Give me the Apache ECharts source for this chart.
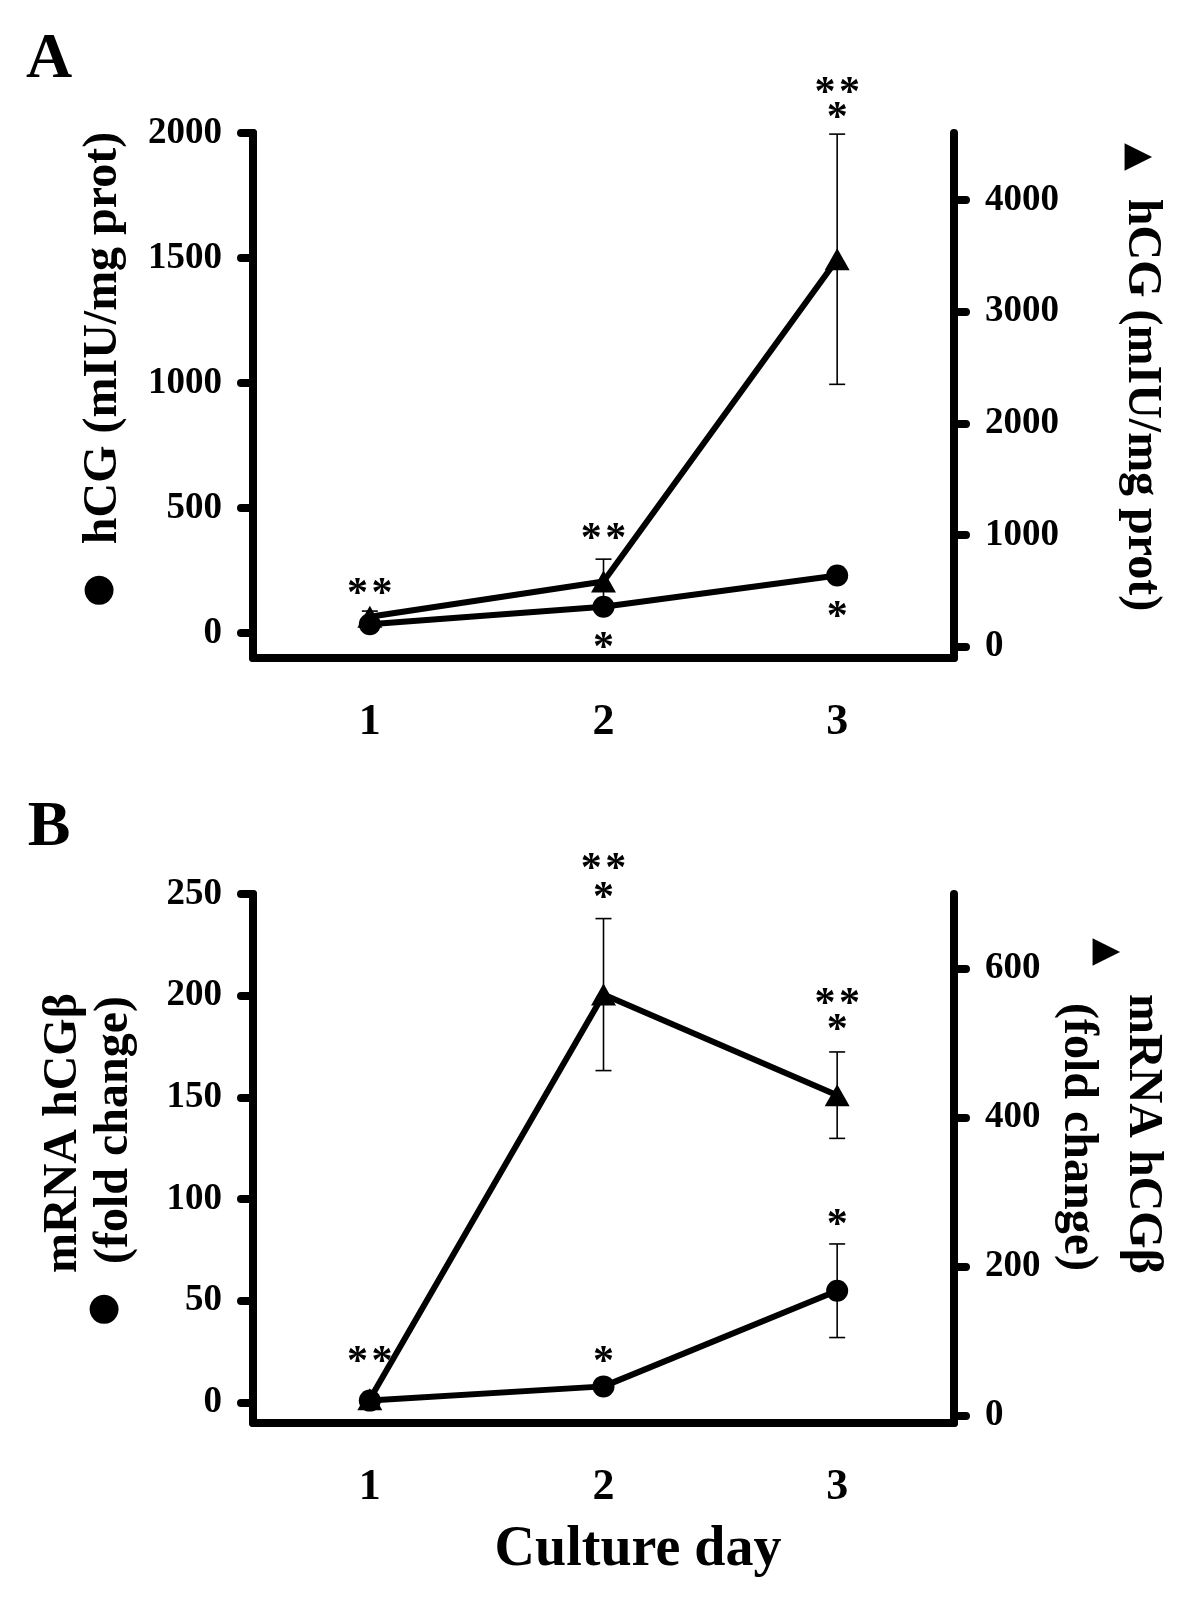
<!DOCTYPE html>
<html>
<head>
<meta charset="utf-8">
<script src="https://cdn.jsdelivr.net/npm/echarts@6/dist/echarts.min.js"></script>
<style>
html,body{margin:0;padding:0;background:#fff;}
#chart{width:1200px;height:1600px;}
</style>
</head>
<body>
<div id="chart"></div>
<script>
// ---------- data ----------
const days = ['1', '2', '3'];

// Panel A: hCG protein (mIU/mg prot)
const A_circle = [35, 105, 230];          // left axis
const A_circleErr = [0, 0, 0];
const A_triangle = [270, 585, 3470];      // right axis
const A_triangleErr = [50, 200, 1120];

// Panel B: mRNA hCGβ (fold change)
const B_circle = [1, 8, 55];              // left axis
const B_circleErr = [0, 0, 23];
const B_triangle = [22, 565, 430];        // right axis
const B_triangleErr = [0, 102, 58];

// tick labels
const A_leftTicks = [0, 500, 1000, 1500, 2000];
const A_rightTicks = [0, 1000, 2000, 3000, 4000];
const B_leftTicks = [0, 50, 100, 150, 200, 250];
const B_rightTicks = [0, 200, 400, 600];

// significance marks: [day index, value on left axis, text]
const A_stars = [[0, 189, '*\u200A*'], [1, 408, '*\u200A*'], [1, -29, '*'], [2, 2193, '*\u200A*'], [2, 2091, '*'], [2, 96, '*']];
const B_stars = [[0, 24, '*\u200A*'], [1, 24, '*'], [1, 266, '*\u200A*'], [1, 252, '*'], [2, 200, '*\u200A*'], [2, 187, '*'], [2, 91, '*']];

// ---------- chart ----------
const FONT = '"Liberation Serif", "Times New Roman", serif';
const chart = echarts.init(document.getElementById('chart'), null, {renderer: 'canvas'});

function xAx(gi) {
  return {
    gridIndex: gi, type: 'category', data: days, boundaryGap: true,
    axisLine: {show: true, onZero: false, lineStyle: {color: '#000', width: 8, cap: 'round'}},
    axisTick: {show: false},
    axisLabel: {margin: 43, color: '#000', fontFamily: FONT, fontWeight: 'bold', fontSize: 44},
    splitLine: {show: false}
  };
}
function yAx(gi, pos, min, max, ticks) {
  return {
    gridIndex: gi, type: 'value', position: pos, min: min, max: max,
    axisLine: {show: true, onZero: false, lineStyle: {color: '#000', width: 8, cap: 'round'}},
    axisTick: {show: true, length: 12, customValues: ticks, lineStyle: {color: '#000', width: 8, cap: 'round'}},
    axisLabel: {customValues: ticks, margin: 31, color: '#000', fontFamily: FONT, fontWeight: 'bold', fontSize: 37,
      formatter: function (v) { return String(v); }},
    splitLine: {show: false}
  };
}
function lineSeries(xi, yi, vals, sym, size) {
  return {
    type: 'line', xAxisIndex: xi, yAxisIndex: yi, data: vals,
    symbol: sym, symbolSize: size, showAllSymbol: true,
    lineStyle: {color: '#000', width: 6},
    itemStyle: {color: '#000', borderWidth: 0},
    z: 3, animation: false
  };
}
function errSeries(xi, yi, vals, errs) {
  const data = [];
  vals.forEach((v, i) => { if (errs[i] > 0) data.push([i, v - errs[i], v + errs[i]]); });
  return {
    type: 'custom', xAxisIndex: xi, yAxisIndex: yi, data: data, z: 2, animation: false,
    encode: {x: 0, y: [1, 2]},
    renderItem: function (params, api) {
      const x = api.value(0);
      const lo = api.coord([x, api.value(1)]);
      const hi = api.coord([x, api.value(2)]);
      const w = 8;
      const st = {stroke: '#000', lineWidth: 1.6};
      return {type: 'group', children: [
        {type: 'line', shape: {x1: lo[0], y1: lo[1], x2: hi[0], y2: hi[1]}, style: st},
        {type: 'line', shape: {x1: lo[0] - w, y1: lo[1], x2: lo[0] + w, y2: lo[1]}, style: st},
        {type: 'line', shape: {x1: hi[0] - w, y1: hi[1], x2: hi[0] + w, y2: hi[1]}, style: st}
      ]};
    }
  };
}
function starSeries(xi, yi, stars) {
  return {
    type: 'custom', xAxisIndex: xi, yAxisIndex: yi, z: 5, animation: false, clip: false,
    data: stars.map(s => [s[0], s[1]]),
    encode: {x: 0, y: 1},
    renderItem: function (params, api) {
      const p = api.coord([api.value(0), api.value(1)]);
      return {type: 'text', x: p[0], y: p[1] + 9, style: {
        text: stars[params.dataIndex][2], fill: '#000', fontFamily: FONT, fontWeight: 'bold', fontSize: 42,
        align: 'center', verticalAlign: 'middle'}};
    }
  };
}
function txt(x, y, text, size, rot, family, weight) {
  return {type: 'text', x: x, y: y, rotation: rot || 0, z: 10, style: {
    text: text, fill: '#000', fontFamily: family || FONT, fontWeight: weight || 'bold', fontSize: size,
    align: 'center', verticalAlign: 'middle'}};
}
const SYM = '"DejaVu Sans", sans-serif';
const R = Math.PI / 2;

chart.setOption({
  animation: false,
  backgroundColor: '#fff',
  grid: [
    {left: 253, right: 246, top: 133, height: 525, containLabel: false},
    {left: 253, right: 246, top: 894, height: 529, containLabel: false}
  ],
  xAxis: [xAx(0), xAx(1)],
  yAxis: [
    yAx(0, 'left', -100, 2000, A_leftTicks),
    yAx(0, 'right', -100, 4600, A_rightTicks),
    yAx(1, 'left', -10, 250, B_leftTicks),
    yAx(1, 'right', -10, 700, B_rightTicks)
  ],
  series: [
    errSeries(0, 0, A_circle, A_circleErr),
    errSeries(0, 1, A_triangle, A_triangleErr),
    lineSeries(0, 0, A_circle, 'circle', 22),
    lineSeries(0, 1, A_triangle, 'triangle', [25, 22]),
    starSeries(0, 0, A_stars),
    errSeries(1, 2, B_circle, B_circleErr),
    errSeries(1, 3, B_triangle, B_triangleErr),
    lineSeries(1, 2, B_circle, 'circle', 22),
    lineSeries(1, 3, B_triangle, 'triangle', [25, 22]),
    starSeries(1, 2, B_stars)
  ],
  graphic: [
    txt(49, 60, 'A', 64),
    txt(49, 828, 'B', 64),
    // Panel A axis titles
    txt(104, 338, 'hCG (mIU/mg prot)', 48, R),
    txt(99, 590, '●', 38, 0, SYM, 'normal'),
    txt(1138, 157, '▲', 36, -R, SYM, 'normal'),
    txt(1141, 405, 'hCG (mIU/mg prot)', 48, -R),
    // Panel B axis titles
    txt(64, 1133, 'mRNA hCGβ', 48, R),
    txt(115, 1130, '(fold change)', 48, R),
    txt(104, 1309, '●', 38, 0, SYM, 'normal'),
    txt(1106, 952, '▲', 36, -R, SYM, 'normal'),
    txt(1142, 1134, 'mRNA hCGβ', 48, -R),
    txt(1077, 1137, '(fold change)', 48, -R),
    // x axis title
    txt(638, 1551, 'Culture day', 56)
  ]
});
</script>
</body>
</html>
